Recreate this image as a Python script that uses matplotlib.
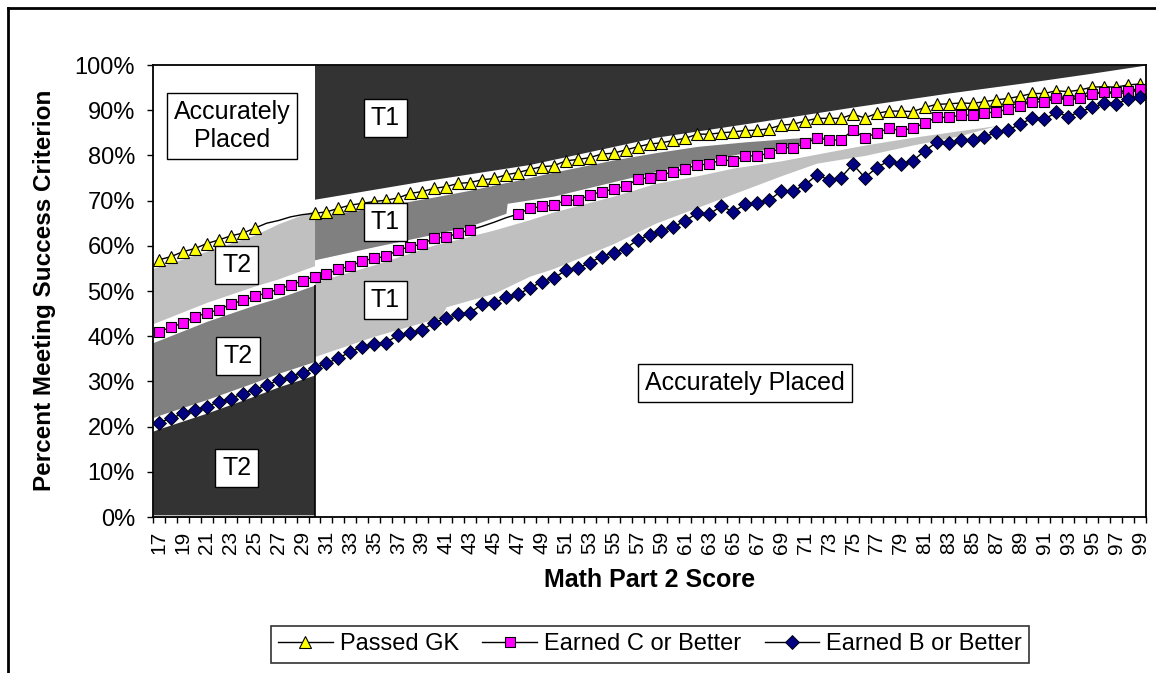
import matplotlib
matplotlib.use("Agg")
import matplotlib.pyplot as plt
from matplotlib.lines import Line2D

plt.rcParams['font.family'] = ['Liberation Sans', 'DejaVu Sans']

# ---------------- data ----------------
scores = list(range(17, 100))

passed_gk = [56.9, 57.6, 58.7, 59.4, 60.5, 61.3, 62.2, 62.8, 63.9, 65.0, 65.6, 66.4, 66.9, 67.2,
             67.5, 68.3, 69.0, 69.4, 69.8, 70.1, 70.6, 71.6, 72.0, 72.7, 73.1, 73.8, 74.0, 74.6,
             74.9, 75.7, 76.2, 76.9, 77.5, 77.7, 78.8, 79.1, 79.5, 80.3, 80.5, 81.2, 81.9, 82.5,
             82.8, 83.3, 83.8, 84.7, 84.7, 85.0, 85.2, 85.5, 85.6, 85.9, 86.7, 86.9, 87.6, 88.2,
             88.2, 88.2, 89.1, 88.3, 89.3, 89.8, 89.8, 89.7, 90.6, 91.3, 91.4, 91.6, 91.5, 91.9,
             92.3, 92.6, 93.1, 93.7, 93.7, 94.3, 94.1, 94.5, 95.1, 95.2, 95.1, 95.6, 95.8]

earned_c = [41.0, 42.0, 42.9, 44.2, 45.2, 45.8, 47.1, 47.9, 48.8, 49.6, 50.4, 51.3, 52.3, 53.2,
            53.8, 54.8, 55.5, 56.7, 57.2, 57.7, 59.1, 59.8, 60.4, 61.7, 61.9, 62.8, 63.5, 64.3,
            65.2, 66.2, 67.0, 68.3, 68.7, 69.0, 70.1, 70.1, 71.2, 72.0, 72.5, 73.2, 74.7, 75.1,
            75.7, 76.4, 77.1, 77.9, 78.1, 79.0, 78.8, 79.9, 79.9, 80.5, 81.7, 81.7, 82.7, 83.8,
            83.4, 83.4, 85.6, 83.9, 85.0, 86.0, 85.5, 86.0, 87.2, 88.4, 88.4, 88.9, 88.9, 89.3,
            89.7, 90.2, 91.0, 91.9, 91.8, 92.6, 92.3, 92.6, 93.5, 94.0, 94.0, 94.3, 94.8]

earned_b = [20.9, 21.8, 22.9, 23.7, 24.4, 25.5, 26.2, 27.3, 28.2, 29.2, 30.2, 31.0, 31.9, 33.0,
            34.0, 35.1, 36.6, 37.7, 38.2, 38.6, 40.3, 40.6, 41.4, 43.0, 44.0, 44.9, 45.2, 47.1,
            47.3, 48.6, 49.3, 50.6, 52.1, 52.8, 54.6, 55.0, 56.3, 57.6, 58.5, 59.4, 61.3, 62.4,
            63.3, 64.2, 65.5, 67.3, 67.0, 68.8, 67.5, 69.2, 69.4, 70.1, 72.1, 72.1, 73.5, 75.7,
            74.6, 75.1, 78.0, 75.1, 77.3, 78.8, 78.1, 78.8, 81.0, 82.9, 82.7, 83.3, 83.3, 84.0,
            85.2, 85.6, 87.0, 88.2, 88.0, 89.5, 88.6, 89.7, 90.6, 91.5, 91.4, 92.4, 92.9]

series_names = ["Passed GK", "Earned C or Better", "Earned B or Better"]
tick_labels = [str(s) for s in range(17, 100, 2)]
y_ticks = list(range(0, 101, 10))

# scores whose markers are hidden behind the shading in the original
hidden_gk = [26, 27, 28, 29]
hidden_c = [44, 45, 46]

cutoff = 30

# shaded zone boundaries
left_x = [16.5, 17, 21, 25, 27, 30]
left_light_top = [55.0, 55.4, 58.8, 62.4, 64.9, 67.9]
left_light_bot = [42.8, 43.3, 47.5, 51.1, 52.7, 55.6]
left_med_top = [38.6, 39.1, 43.3, 46.9, 48.5, 51.3]
left_med_bot = [22.0, 22.5, 26.0, 29.8, 31.8, 34.4]
left_dark_top = [19.0, 19.5, 23.0, 26.8, 28.8, 31.4]

dark_x = [30, 39, 48, 58.5, 67, 75, 83, 90, 95, 99.5]
dark_bot = [70.3, 74.3, 78.0, 84.0, 87.4, 90.7, 93.8, 96.3, 98.2, 100.0]

med_x = [30, 35, 40, 43, 46, 46.1, 50, 55, 58.5, 62, 66, 70, 73]
med_top = [66.4, 68.5, 70.8, 72.3, 74.0, 74.0, 76.3, 79.0, 80.6, 82.0, 83.0, 83.8, 84.2]
med_bot = [56.9, 59.8, 62.6, 64.4, 67.2, 69.4, 71.0, 74.2, 76.4, 78.6, 80.6, 82.3, 84.2]

light_x = [30, 35, 40, 40.5, 41, 45, 48, 50, 55, 58.5, 62, 65, 69, 72, 76, 80, 84, 87]
light_top = [52.0, 55.8, 60.2, 60.5, 60.8, 63.5, 65.8, 67.5, 71.0, 73.8, 75.5, 77.2, 78.8, 80.3,
             82.3, 84.0, 85.5, 86.6]
light_bot = [35.5, 40.0, 43.8, 44.0, 46.5, 49.5, 53.3, 55.0, 60.5, 65.0, 68.5, 71.5, 75.5, 78.3,
             80.0, 82.3, 84.4, 86.6]

# ---------------- figure ----------------
W, H = 1156, 673
fig = plt.figure(figsize=(W / 100, H / 100), dpi=100)
ax = fig.add_axes([153 / W, 1 - 517 / H, (1146 - 153) / W, (517 - 65) / H])

DARK, MED, LIGHT = "#333333", "#808080", "#C0C0C0"

# left zone (T2)
ax.fill_between(left_x, left_light_bot, left_light_top, color=LIGHT, lw=0, zorder=1)
ax.fill_between(left_x, left_med_bot, left_med_top, color=MED, lw=0, zorder=1)
ax.fill_between(left_x, [0] * len(left_x), left_dark_top, color=DARK, lw=0, zorder=1)
ax.fill_between([16.5, cutoff], [0, 0], [0.5, 0.5], color=LIGHT, lw=0, zorder=1.1)
ax.vlines(cutoff, 0, left_med_top[-1], color="black", lw=1.2, zorder=1.5)

# right zone (T1)
ax.fill_between(dark_x, dark_bot, [100] * len(dark_x), color=DARK, lw=0, zorder=1)
ax.fill_between(med_x, med_bot, med_top, color=MED, lw=0, zorder=1)
ax.fill_between(light_x, light_bot, light_top, color=LIGHT, lw=0, zorder=1)

# series
def vis(hidden):
    return [i for i, s in enumerate(scores) if s not in hidden]

ax.plot(scores, passed_gk, color="black", lw=1, marker="^", ms=8,
        mfc="#FFFF00", mec="black", mew=0.8, markevery=vis(hidden_gk),
        label=series_names[0], zorder=3)
ax.plot(scores, earned_c, color="black", lw=1, marker="s", ms=7.5,
        mfc="#FF00FF", mec="black", mew=0.8, markevery=vis(hidden_c),
        label=series_names[1], zorder=3)
ax.plot(scores, earned_b, color="black", lw=1, marker="D", ms=7,
        mfc="#000080", mec="black", mew=0.6,
        label=series_names[2], zorder=3)

# text boxes
box = dict(boxstyle="square,pad=0.28", fc="white", ec="black", lw=1)
fs_box = 18
ax.text(23.1, 86.5, "Accurately\nPlaced", ha="center", va="center", fontsize=fs_box,
        bbox=box, zorder=5, linespacing=1.2)
ax.text(35.9, 88.3, "T1", ha="center", va="center", fontsize=fs_box, bbox=box, zorder=5)
ax.text(23.5, 55.8, "T2", ha="center", va="center", fontsize=fs_box, bbox=box, zorder=5)
ax.text(35.9, 65.3, "T1", ha="center", va="center", fontsize=fs_box, bbox=box, zorder=5)
ax.text(35.9, 48.0, "T1", ha="center", va="center", fontsize=fs_box, bbox=box, zorder=5)
ax.text(23.6, 35.6, "T2", ha="center", va="center", fontsize=fs_box, bbox=box, zorder=5)
ax.text(23.5, 10.8, "T2", ha="center", va="center", fontsize=fs_box, bbox=box, zorder=5)
ax.text(66.0, 29.6, "Accurately Placed", ha="center", va="center", fontsize=fs_box,
        bbox=box, zorder=5)

# axes
ax.set_xlim(16.5, 99.5)
ax.set_ylim(0, 100)
ax.set_yticks(y_ticks)
ax.set_yticklabels([f"{v}%" for v in y_ticks], fontsize=17)
ax.set_xticks(list(range(17, 100, 2)))
ax.set_xticklabels(tick_labels, rotation=90, fontsize=15)
ax.set_xticks([s + 0.5 for s in range(16, 100)], minor=True)
ax.tick_params(axis="x", which="major", length=0, pad=10)
ax.tick_params(axis="x", which="minor", length=4, width=1, direction="out")
ax.tick_params(axis="y", length=4, width=1, direction="out", pad=9)
for sp in ax.spines.values():
    sp.set_linewidth(1.3)
    sp.set_color("black")
    sp.set_zorder(6)

ax.set_ylabel("Percent Meeting Success Criterion", fontsize=17.5, fontweight="bold")
ax.yaxis.set_label_coords(-0.098, 0.502)
ax.set_xlabel("Math Part 2 Score", fontsize=18, fontweight="bold")
ax.xaxis.set_label_coords(0.5, -0.112)

leg = fig.legend(loc="center", bbox_to_anchor=(650 / W, 1 - 644.5 / H), ncol=3,
                 fontsize=17, frameon=True, fancybox=False, edgecolor="black",
                 handlelength=2.3, handletextpad=0.3, columnspacing=1.0,
                 borderpad=0.3)
leg.get_frame().set_linewidth(1.2)

# outer chart frame
fig.add_artist(Line2D([8 / W, 1], [1 - 8 / H, 1 - 8 / H], color="black", lw=2))
fig.add_artist(Line2D([8 / W, 8 / W], [0, 1 - 8 / H], color="black", lw=2))

fig.savefig("out.png", dpi=100)
